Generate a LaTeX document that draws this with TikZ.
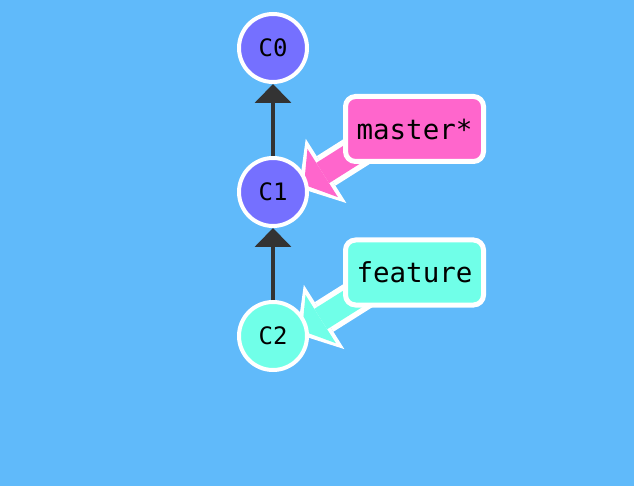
\documentclass[tikz,border=0pt]{standalone}
\usepackage{fontspec}
\setmonofont{DejaVu Sans Mono}
\usetikzlibrary{arrows.meta,backgrounds}

\definecolor{skyblue}{RGB}{96,186,250}
\definecolor{commitpurple}{RGB}{117,112,255}
\definecolor{masterpink}{RGB}{255,102,204}
\definecolor{featurecyan}{RGB}{112,255,232}
\definecolor{edgegray}{RGB}{51,51,51}

\tikzset{
	commit/.style={circle, draw=white, line width=4pt, minimum size=68pt, inner sep=0pt,
		font=\ttfamily\fontsize{24}{28}\selectfont},
	branch/.style={rectangle, rounded corners=10pt, draw=white, line width=5pt,
		minimum width=138pt, minimum height=65pt, inner sep=0pt,
		font=\ttfamily\fontsize{27.5}{32}\selectfont},
	parent/.style={draw=edgegray, line width=4pt, -{Triangle[width=36pt,length=19pt]}},
	pointer outline/.style={draw=white, line width=35pt, -{Triangle[width=76pt,length=32pt,line width=0pt]}},
	pointer/.style={draw=#1, line width=24pt, shorten >=6pt, -{Triangle[width=57pt,length=22pt,line width=0pt]}},
}

\begin{document}
\begin{tikzpicture}[x=1pt, y=-1pt]
			%%%%% START %%%%%
			\useasboundingbox (0, 0) rectangle (634, 486);
			
			\node[commit, fill=commitpurple] (C0) at (273, 48) {C0};
			\node[commit, fill=commitpurple] (C1) at (273, 192) {C1};
			\node[commit, fill=featurecyan] (C2) at (273, 336) {C2};
			
			\node[branch, fill=masterpink] (master) at (414.5, 129) {master*};
			\node[branch, fill=featurecyan] (feature) at (414.5, 272.5) {feature};
			
			\draw[parent] (C1) -- (C0);
			\draw[parent] (C2) -- (C1);
			
			% pointers leave the boxes a little above their centres
			\coordinate (master aim) at (414.5, 115);
			\coordinate (master tip) at (299, 188);
			\coordinate (feature aim) at (414.5, 260);
			\coordinate (feature tip) at (297, 334);
			
			\begin{scope}[on background layer]
				\fill[skyblue] (0, 0) rectangle (634, 486);
				
				\draw[pointer outline] (master aim) -- (master tip);
				\draw[pointer=masterpink] (master aim) -- (master tip);
				
				\draw[pointer outline] (feature aim) -- (feature tip);
				\draw[pointer=featurecyan] (feature aim) -- (feature tip);
			\end{scope}
			
			%%%%% END %%%%%
\end{tikzpicture}
\end{document}
